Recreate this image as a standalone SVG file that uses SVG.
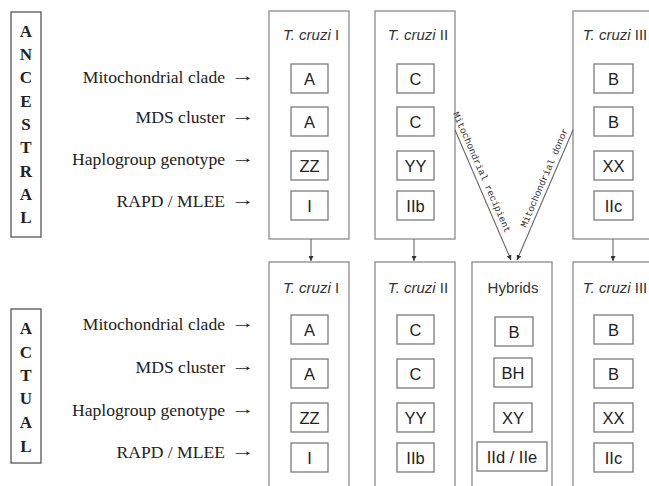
<svg xmlns="http://www.w3.org/2000/svg" width="649" height="486" viewBox="0 0 649 486">
  <defs>
    <marker id="head" viewBox="0 0 10 10" refX="10" refY="5" markerWidth="5" markerHeight="5" orient="auto" markerUnits="userSpaceOnUse">
      <path d="M0,0 L10,5 L0,10 z" fill="#333"/>
    </marker>
    <style>
      .outer { fill: #fff; stroke: #8a8a8a; stroke-width: 1.3; }
      .cell { fill: #fff; stroke: #7a7a7a; stroke-width: 1.3; }
      .phase { fill: #fff; stroke: #555; stroke-width: 1.3; }
      .letter { font-family: "Liberation Serif", "Times New Roman", serif; font-weight: bold; font-size: 17px; fill: #222; text-anchor: middle; }
      .row { font-family: "Liberation Serif", "Times New Roman", serif; font-size: 17.6px; fill: #222; text-anchor: end; }
      .arr { font-family: "Liberation Serif", "DejaVu Sans", serif; font-size: 16px; fill: #222; }
      .title { font-family: "Liberation Sans", Arial, sans-serif; font-size: 15px; fill: #333; text-anchor: middle; }
      .val { font-family: "Liberation Sans", Arial, sans-serif; font-size: 16.5px; fill: #222; text-anchor: middle; }
      .mono { font-family: "Liberation Mono", "Courier New", monospace; font-size: 9.5px; fill: #333; }
      .link { stroke: #666; stroke-width: 1.1; fill: none; marker-end: url(#head); }
    </style>
  </defs>
  <rect width="649" height="486" fill="#fff"/>

  <!-- phase labels -->
  <g id="ancestral">
    <rect class="phase" x="11" y="12" width="30" height="225"/>
    <text class="letter" x="26" y="37">A</text>
    <text class="letter" x="26" y="60">N</text>
    <text class="letter" x="26" y="83">C</text>
    <text class="letter" x="26" y="107">E</text>
    <text class="letter" x="26" y="130">S</text>
    <text class="letter" x="26" y="153">T</text>
    <text class="letter" x="26" y="177">R</text>
    <text class="letter" x="26" y="200">A</text>
    <text class="letter" x="26" y="223">L</text>
  </g>
  <g id="actual">
    <rect class="phase" x="11" y="309" width="30" height="154"/>
    <text class="letter" x="26" y="334">A</text>
    <text class="letter" x="26" y="358">C</text>
    <text class="letter" x="26" y="381">T</text>
    <text class="letter" x="26" y="404">U</text>
    <text class="letter" x="26" y="428">A</text>
    <text class="letter" x="26" y="452">L</text>
  </g>

  <!-- row labels -->
  <g id="rows-ancestral">
    <text class="row" x="225" y="83">Mitochondrial clade</text>
    <text class="arr" x="231" y="81" textLength="24" lengthAdjust="spacingAndGlyphs">→</text>
    <text class="row" x="225" y="123">MDS cluster</text>
    <text class="arr" x="231" y="121" textLength="24" lengthAdjust="spacingAndGlyphs">→</text>
    <text class="row" x="225" y="165">Haplogroup genotype</text>
    <text class="arr" x="231" y="163" textLength="24" lengthAdjust="spacingAndGlyphs">→</text>
    <text class="row" x="225" y="207">RAPD / MLEE</text>
    <text class="arr" x="231" y="205" textLength="24" lengthAdjust="spacingAndGlyphs">→</text>
  </g>
  <g id="rows-actual">
    <text class="row" x="225" y="330">Mitochondrial clade</text>
    <text class="arr" x="231" y="328" textLength="24" lengthAdjust="spacingAndGlyphs">→</text>
    <text class="row" x="225" y="373">MDS cluster</text>
    <text class="arr" x="231" y="371" textLength="24" lengthAdjust="spacingAndGlyphs">→</text>
    <text class="row" x="225" y="416">Haplogroup genotype</text>
    <text class="arr" x="231" y="414" textLength="24" lengthAdjust="spacingAndGlyphs">→</text>
    <text class="row" x="225" y="458">RAPD / MLEE</text>
    <text class="arr" x="231" y="456" textLength="24" lengthAdjust="spacingAndGlyphs">→</text>
  </g>

  <!-- ancestral lineages -->
  <g id="anc-tc1">
    <rect class="outer" x="269" y="11" width="80" height="228"/>
    <text class="title" x="311" y="40"><tspan font-style="italic">T. cruzi</tspan> I</text>
    <rect class="cell" x="291" y="64" width="37" height="29"/><text class="val" x="309.5" y="84.5">A</text>
    <rect class="cell" x="291" y="107" width="37" height="29"/><text class="val" x="309.5" y="127.5">A</text>
    <rect class="cell" x="291" y="151" width="37" height="29"/><text class="val" x="309.5" y="171.5">ZZ</text>
    <rect class="cell" x="291" y="191" width="37" height="29"/><text class="val" x="309.5" y="211.5">I</text>
  </g>
  <g id="anc-tc2">
    <rect class="outer" x="375" y="11" width="80" height="228"/>
    <text class="title" x="418" y="40"><tspan font-style="italic">T. cruzi</tspan> II</text>
    <rect class="cell" x="397" y="64" width="37" height="29"/><text class="val" x="415.5" y="84.5">C</text>
    <rect class="cell" x="397" y="107" width="37" height="29"/><text class="val" x="415.5" y="127.5">C</text>
    <rect class="cell" x="397" y="151" width="37" height="29"/><text class="val" x="415.5" y="171.5">YY</text>
    <rect class="cell" x="397" y="191" width="37" height="29"/><text class="val" x="415.5" y="211.5">IIb</text>
  </g>
  <g id="anc-tc3">
    <rect class="outer" x="573" y="11" width="82" height="228"/>
    <text class="title" x="615" y="40"><tspan font-style="italic">T. cruzi</tspan> III</text>
    <rect class="cell" x="594" y="64" width="39" height="29"/><text class="val" x="613.5" y="84.5">B</text>
    <rect class="cell" x="594" y="107" width="39" height="29"/><text class="val" x="613.5" y="127.5">B</text>
    <rect class="cell" x="594" y="151" width="39" height="29"/><text class="val" x="613.5" y="171.5">XX</text>
    <rect class="cell" x="594" y="191" width="39" height="29"/><text class="val" x="613.5" y="211.5">IIc</text>
  </g>

  <!-- present-day lineages -->
  <g id="act-tc1">
    <rect class="outer" x="269" y="262" width="80" height="230"/>
    <text class="title" x="311" y="293"><tspan font-style="italic">T. cruzi</tspan> I</text>
    <rect class="cell" x="291" y="315" width="37" height="29"/><text class="val" x="309.5" y="335.5">A</text>
    <rect class="cell" x="291" y="359" width="37" height="29"/><text class="val" x="309.5" y="379.5">A</text>
    <rect class="cell" x="291" y="403" width="37" height="29"/><text class="val" x="309.5" y="423.5">ZZ</text>
    <rect class="cell" x="291" y="443" width="37" height="29"/><text class="val" x="309.5" y="463.5">I</text>
  </g>
  <g id="act-tc2">
    <rect class="outer" x="375" y="262" width="80" height="230"/>
    <text class="title" x="418" y="293"><tspan font-style="italic">T. cruzi</tspan> II</text>
    <rect class="cell" x="397" y="315" width="37" height="29"/><text class="val" x="415.5" y="335.5">C</text>
    <rect class="cell" x="397" y="359" width="37" height="29"/><text class="val" x="415.5" y="379.5">C</text>
    <rect class="cell" x="397" y="403" width="37" height="29"/><text class="val" x="415.5" y="423.5">YY</text>
    <rect class="cell" x="397" y="443" width="37" height="29"/><text class="val" x="415.5" y="463.5">IIb</text>
  </g>
  <g id="act-hybrids">
    <rect class="outer" x="472" y="262" width="80" height="230"/>
    <text class="title" x="513" y="293">Hybrids</text>
    <rect class="cell" x="495" y="317" width="38" height="29"/><text class="val" x="514" y="337.5">B</text>
    <rect class="cell" x="494" y="358" width="38" height="29"/><text class="val" x="513" y="378.5">BH</text>
    <rect class="cell" x="494" y="403" width="38" height="29"/><text class="val" x="513" y="423.5">XY</text>
    <rect class="cell" x="477" y="442" width="70" height="29"/><text class="val" x="512" y="462.5">IId / IIe</text>
  </g>
  <g id="act-tc3">
    <rect class="outer" x="573" y="262" width="82" height="230"/>
    <text class="title" x="615" y="293"><tspan font-style="italic">T. cruzi</tspan> III</text>
    <rect class="cell" x="594" y="315" width="39" height="29"/><text class="val" x="613.5" y="335.5">B</text>
    <rect class="cell" x="594" y="359" width="39" height="29"/><text class="val" x="613.5" y="379.5">B</text>
    <rect class="cell" x="594" y="403" width="39" height="29"/><text class="val" x="613.5" y="423.5">XX</text>
    <rect class="cell" x="594" y="443" width="39" height="29"/><text class="val" x="613.5" y="463.5">IIc</text>
  </g>

  <!-- descent and hybridisation links -->
  <g id="connectors">
    <line class="link" x1="311" y1="239" x2="311" y2="261"/>
    <line class="link" x1="414" y1="239" x2="414" y2="261"/>
    <line class="link" x1="613" y1="239" x2="613" y2="261"/>
    <line class="link" x1="455" y1="130" x2="511" y2="260"/>
    <line class="link" x1="573" y1="130" x2="517" y2="260"/>
    <text class="mono" transform="translate(448.6,115.3) rotate(66.3)" x="0" y="-4.5" textLength="131" lengthAdjust="spacing">Mitochondrial recipient</text>
    <text class="mono" transform="translate(530.1,229.7) rotate(-66.7)" x="0" y="-4.5" textLength="107" lengthAdjust="spacing">Mitochondrial donor</text>
  </g>
</svg>
